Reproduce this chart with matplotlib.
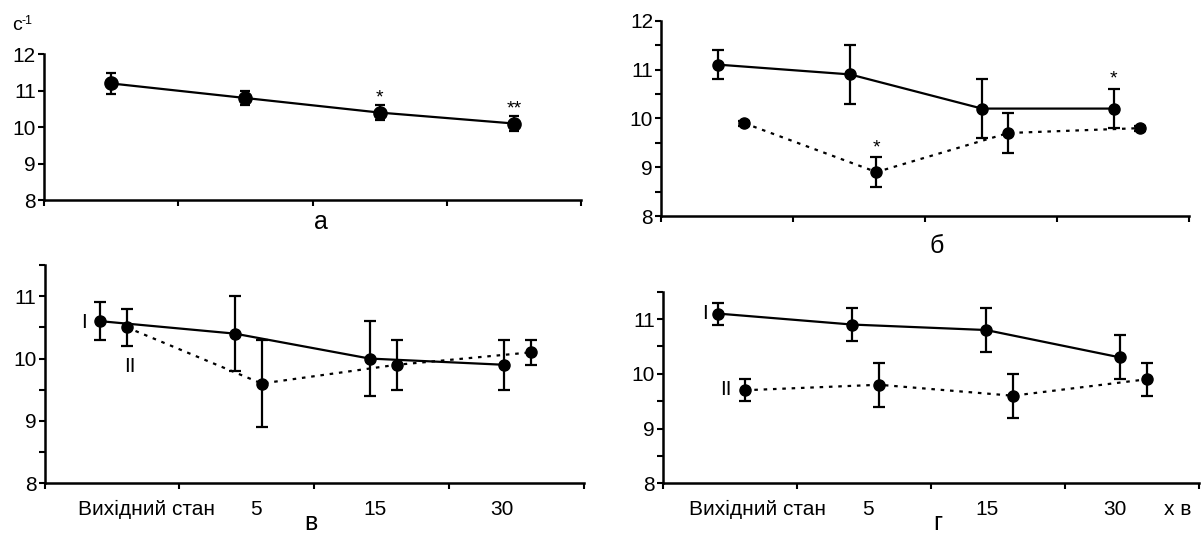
import matplotlib
matplotlib.use("Agg")
import matplotlib.pyplot as plt
import numpy as np

plt.rcParams['font.family'] = ['Liberation Sans', 'DejaVu Sans']

categories = ["Вихідний стан", "5", "15", "30"]
unit_label = "х в"

a_vals = [11.2, 10.8, 10.4, 10.1]
a_err = [0.3, 0.2, 0.2, 0.2]
a_marks = ["", "", "*", "**"]

b_I = [11.1, 10.9, 10.2, 10.2]
b_I_err = [0.3, 0.6, 0.6, 0.4]
b_II = [9.9, 8.9, 9.7, 9.8]
b_II_err = [0.05, 0.3, 0.4, 0.05]
b_I_marks = ["", "", "", "*"]
b_II_marks = ["", "*", "", ""]

c_I = [10.6, 10.4, 10.0, 9.9]
c_I_err = [0.3, 0.6, 0.6, 0.4]
c_II = [10.5, 9.6, 9.9, 10.1]
c_II_err = [0.3, 0.7, 0.4, 0.2]

d_I = [11.1, 10.9, 10.8, 10.3]
d_I_err = [0.2, 0.3, 0.4, 0.4]
d_II = [9.7, 9.8, 9.6, 9.9]
d_II_err = [0.2, 0.4, 0.4, 0.3]

W, H = 1202, 536
fig = plt.figure(figsize=(W / 100, H / 100), dpi=100)


def px_axes(x0, x1, ytop, ybot):
    return fig.add_axes([x0 / W, 1 - ybot / H, (x1 - x0) / W, (ybot - ytop) / H])


LW = 1.6
FS = 15


def style(ax, ymax, minor):
    for s in ['top', 'right']:
        ax.spines[s].set_visible(False)
    for s in ['left', 'bottom']:
        ax.spines[s].set_linewidth(1.8)
    ax.set_xlim(0, 4)
    ax.set_ylim(8, ymax)
    ax.set_xticks([0, 1, 2, 3, 4])
    ax.set_xticklabels([])
    ax.set_yticks([8, 9, 10, 11, 12] if ymax >= 12 else [8, 9, 10, 11])
    ax.tick_params(axis='both', which='major', direction='out', length=4, width=1.5,
                   labelsize=FS, pad=2)
    if minor:
        ax.set_yticks(np.arange(8.5, ymax + 0.01, 1.0), minor=True)
        ax.tick_params(axis='y', which='minor', direction='out', length=4, width=1.5)
    ax.patch.set_alpha(0)


def series(ax, xs, ys, err, dotted, ms=8, cap=3.5):
    ls = (0, (1.6, 2.6)) if dotted else '-'
    ax.errorbar(xs, ys, yerr=err, fmt='o', color='black', ms=ms, capsize=cap,
                elinewidth=1.6, capthick=1.6, linestyle=ls, linewidth=LW, clip_on=False)


idx = np.arange(len(categories))

# Panel а
ax_a = px_axes(44, 581, 54.3, 200)
style(ax_a, 12, False)
series(ax_a, idx + 0.5, a_vals, a_err, False, ms=9.5, cap=3.5)
for x, y, e, m in zip(idx + 0.5, a_vals, a_err, a_marks):
    if m:
        ax_a.text(x, y + e + 0.2, m, ha='center', va='center', fontsize=14)

# Panel б
ax_b = px_axes(661.4, 1189, 20.7, 216)
style(ax_b, 12, True)
series(ax_b, idx + 0.43, b_I, b_I_err, False, cap=4)
series(ax_b, idx + 0.63, b_II, b_II_err, True, cap=4)
for x, y, e, m in zip(idx + 0.43, b_I, b_I_err, b_I_marks):
    if m:
        ax_b.text(x, y + e + 0.2, m, ha='center', va='center', fontsize=14)
for x, y, e, m in zip(idx + 0.63, b_II, b_II_err, b_II_marks):
    if m:
        ax_b.text(x, y + e + 0.2, m, ha='center', va='center', fontsize=14)

# Panel в
ax_c = px_axes(44.6, 584, 265, 483.3)
style(ax_c, 11.5, True)
series(ax_c, idx + 0.41, c_I, c_I_err, False, cap=4)
series(ax_c, idx + 0.61, c_II, c_II_err, True, cap=4)
ax_c.text(0.29, 10.58, "I", ha='center', va='center', fontsize=FS)
ax_c.text(0.63, 9.875, "II", ha='center', va='center', fontsize=FS)
c_label_pos = [0.755, 1.57, 2.45, 3.39]
ax_c.set_xticks(c_label_pos, categories, minor=True)
ax_c.tick_params(axis='x', which='minor', length=0, labelsize=FS, pad=12)

# Panel г
ax_d = px_axes(663.3, 1199, 291.7, 483.3)
style(ax_d, 11.5, True)
series(ax_d, idx + 0.41, d_I, d_I_err, False, cap=4)
series(ax_d, idx + 0.61, d_II, d_II_err, True, cap=4)
ax_d.text(0.31, 11.11, "I", ha='center', va='center', fontsize=FS)
ax_d.text(0.47, 9.71, "II", ha='center', va='center', fontsize=FS)
d_label_pos = [0.70, 1.53, 2.42, 3.37, 3.84]
ax_d.set_xticks(d_label_pos, categories + [unit_label], minor=True)
ax_d.tick_params(axis='x', which='minor', length=0, labelsize=FS, pad=12)

# Panel letters and unit
fig.text(321 / W, 1 - 222 / H, "а", ha='center', va='center', fontsize=18)
fig.text(937 / W, 1 - 246 / H, "б", ha='center', va='center', fontsize=18)
fig.text(311 / W, 1 - 535 / H, "в", ha='center', va='bottom', fontsize=18)
fig.text(938 / W, 1 - 535 / H, "г", ha='center', va='bottom', fontsize=18)
fig.text(12 / W, 1 - 30 / H, "с", ha='left', va='baseline', fontsize=14)
fig.text(22 / W, 1 - 24 / H, "-1", ha='left', va='baseline', fontsize=9)

fig.savefig("out.png", dpi=100)
